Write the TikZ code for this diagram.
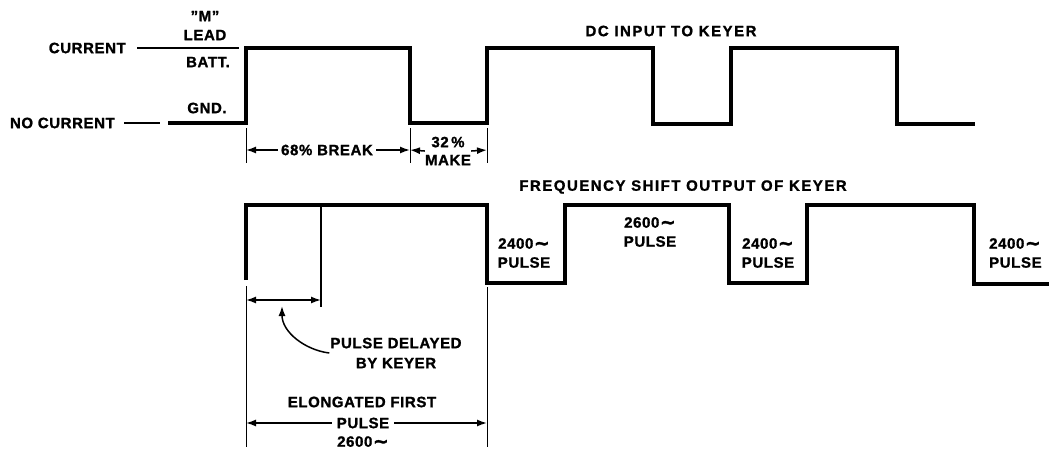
\documentclass[tikz,border=0pt]{standalone}
\usepackage{fontspec}
\setmainfont{Liberation Sans}[LetterSpace=4,BoldFeatures={FakeBold=1.2}]
\newfontfamily\ttlfont{Liberation Sans}[LetterSpace=10,BoldFeatures={FakeBold=1.2}]
\newfontfamily\symfont{DejaVu Sans}[BoldFeatures={FakeBold=1.5}]
\usetikzlibrary{arrows.meta}
\newcommand{\cyc}{{\symfont\bfseries\fontsize{19}{19}\selectfont\kern0.5pt\raisebox{-1pt}{∼}}}
\begin{document}
\begin{tikzpicture}[x=1pt,y=-1pt,
  lbl/.style={font=\fontsize{15}{19}\selectfont\bfseries, inner sep=1pt},
  ttl/.style={font=\ttlfont\fontsize{15}{17}\selectfont\bfseries, inner sep=1pt},
  wave/.style={line width=4pt, line join=miter},
  thinline/.style={line width=1.2pt},
  ext/.style={line width=1pt},
  dim/.style={line width=1.5pt, -{Latex[length=10pt,width=7pt]}},
  dimboth/.style={line width=1.5pt, {Latex[length=10pt,width=7pt]}-{Latex[length=10pt,width=7pt]}},
]
\useasboundingbox (0,0) rectangle (1049,451);

% left-hand labels
\node[lbl,anchor=east] (cur) at (127,48) {CURRENT};
\node[lbl,anchor=east] (nocur) at (116,123) {NO CURRENT};
\node[lbl] (m) at (205,16) {\symbol{34}M\symbol{34}};
\node[lbl] (lead) at (205,35) {LEAD};
\node[lbl] (batt) at (208,62) {BATT.};
\node[lbl] (gnd) at (207,108) {GND.};
\coordinate (cl) at (239,48);
\coordinate (ncl) at (160,123);
\draw[thinline] ([xshift=10pt]cur.east) -- (cl);
\draw[thinline] ([xshift=8pt]nocur.east) -- (ncl);

% DC input waveform
\draw[wave] (168,123) -- (246,123) -- (246,48) -- (410,48) -- (410,123) -- (487,123)
  -- (487,48) -- (653,48) -- (653,124) -- (731,124) -- (731,48) -- (897,48) -- (897,124) -- (975,124);
\node[ttl] (dc) at (671,31) {DC INPUT TO KEYER};

% break / make dimensions
\foreach \x in {246,410,487} \draw[ext] (\x,128) -- (\x,163);
\coordinate (b1) at (246,150);
\coordinate (b2) at (410,150);
\coordinate (b3) at (487,150);
\node[lbl,inner sep=3pt] (brk) at (327,150) {68\% BREAK};
\draw[dim] (brk.west) -- (b1);
\draw[dim] (brk.east) -- (b2);
\node[lbl,align=center,inner sep=0pt,font=\fontsize{15}{18}\selectfont\bfseries] (mk) at (448,151) {32\,\%\\MAKE};
\draw[dim] (mk.west) -- (b2);
\draw[dim] (mk.east) -- (b3);

% frequency shift output waveform
\node[ttl] (fs) at (683,187) {FREQUENCY SHIFT OUTPUT OF KEYER};
\draw[wave] (246,280) -- (246,205) -- (487,205) -- (487,283) -- (565,283) -- (565,205)
  -- (729,205) -- (729,283) -- (807,283) -- (807,205) -- (974,205) -- (974,284) -- (1052,284);
\draw[thinline] (321,205) -- (321,307);
\draw[ext] (246,286) -- (246,447);
\draw[ext] (487,287) -- (487,447);

\node[lbl,align=center] (p1) at (524,253) {2400\cyc\\PULSE};
\node[lbl,align=center] (p2) at (650,232) {2600\cyc\\PULSE};
\node[lbl,align=center] (p3) at (768,253) {2400\cyc\\PULSE};
\node[lbl,align=left,anchor=west] (p4) at (988,253) {2400\cyc\\PULSE};

% delay
\coordinate (d1) at (246,300);
\coordinate (d2) at (321,300);
\draw[dimboth] (d1) -- (d2);
\node[lbl,align=center,font=\fontsize{15}{20}\selectfont\bfseries] (dl) at (396,353) {PULSE DELAYED\\BY KEYER};
\coordinate (dt) at (282,306);
\draw[dim] (dl.west) .. controls (305,350) and (282,332) .. (dt);

% elongated first pulse
\node[lbl] (el1) at (362,402) {ELONGATED FIRST};
\node[lbl,inner sep=5pt] (el2) at (363,423) {PULSE};
\node[lbl] (el3) at (363,442) {2600\cyc};
\coordinate (e1) at (246,423);
\coordinate (e2) at (487,423);
\draw[dim] (el2.west) -- (e1);
\draw[dim] (el2.east) -- (e2);
\end{tikzpicture}
\end{document}
